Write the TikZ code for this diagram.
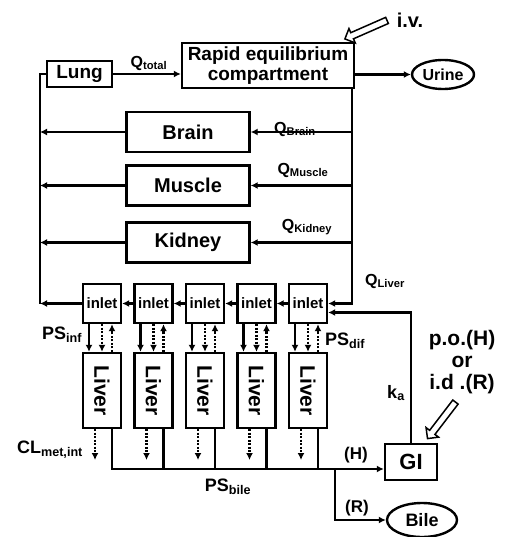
\documentclass[tikz,border=0pt]{standalone}
\usepackage{fontspec}
\setmainfont{Liberation Sans}
\usetikzlibrary{shapes, arrows.meta, positioning}

\newcommand{\fsz}[1]{\fontsize{#1}{#1}\selectfont}

\tikzset{
  box/.style={draw, line width=2.4pt, inner sep=0pt, font=\bfseries},
  organ/.style={box, minimum width=123pt, minimum height=40pt, font=\fsz{20}\bfseries},
  inlet/.style={box, minimum width=38pt, minimum height=39pt, font=\fsz{15}\bfseries},
  liver/.style={box, minimum width=38pt, minimum height=75pt, font=\fsz{21}\bfseries},
  pool/.style={box, ellipse},
  flow/.style={line width=2.4pt, -{Latex[length=7pt,width=7pt]}},
  pipe/.style={line width=2.4pt},
  dots/.style={dash pattern=on 2pt off 1.5pt},
  dose/.style={draw, single arrow, line width=1.5pt, inner sep=2.6pt, single arrow head extend=4.5pt, minimum height=46pt},
  lab/.style={inner sep=0pt, font=\fsz{16}\bfseries},
}

\begin{document}
\begin{tikzpicture}[x=1pt,y=-1pt]
    \useasboundingbox (0,0) rectangle (507,537);

    % top row
    \node[box, minimum width=65pt, minimum height=26pt, font=\fsz{19}\bfseries] (lung) at (79.5,74) {Lung};
    \node[box, minimum width=172pt, minimum height=45pt, align=center, font=\fontsize{19}{20}\selectfont\bfseries] (rapid) at (268,65.5) {Rapid equilibrium\\compartment};
    \node[pool, minimum width=62pt, minimum height=29pt, font=\fsz{16}\bfseries] (urine) at (443,74.5) {Urine};

    % organs
    \node[organ] (brain) at (188,132) {Brain};
    \node[organ] (muscle) at (188,185.5) {Muscle};
    \node[organ] (kidney) at (188,242.5) {Kidney};

    % liver compartments
    \node[inlet] (in1) at (102,303.5) {inlet};
    \node[inlet] (in2) at (153.5,303.5) {inlet};
    \node[inlet] (in3) at (205,303.5) {inlet};
    \node[inlet] (in4) at (256.5,303.5) {inlet};
    \node[inlet] (in5) at (308,303.5) {inlet};
    \node[liver] (li1) at (102,390.5) {\rotatebox{-90}{Liver}};
    \node[liver] (li2) at (153.5,390.5) {\rotatebox{-90}{Liver}};
    \node[liver] (li3) at (205,390.5) {\rotatebox{-90}{Liver}};
    \node[liver] (li4) at (256.5,390.5) {\rotatebox{-90}{Liver}};
    \node[liver] (li5) at (308,390.5) {\rotatebox{-90}{Liver}};

    \node[box, minimum width=52pt, minimum height=36pt, font=\fsz{22}\bfseries] (gi) at (411,462) {GI};
    \node[pool, minimum width=70pt, minimum height=34pt, font=\fsz{18}\bfseries] (bile) at (422,520) {Bile};

    \coordinate (rt) at (352,88);   % right trunk
    \coordinate (lt) at (40,303.5); % left trunk
    \coordinate (bj) at (335,469);  % bile junction
    \coordinate (clrow) at (0,460);

    % blood flow
    \draw[flow] (lung.east) -- (lung.east -| rapid.west);
    \draw[flow] (rapid.east |- urine.west) -- (urine.west);
    \draw[flow] (rt) |- (in5.east);
    \draw[flow] (rt |- brain.east) -- (brain.east);
    \draw[flow] (rt |- muscle.east) -- (muscle.east);
    \draw[flow] (rt |- kidney.east) -- (kidney.east);
    \draw[flow] (brain.west) -- (lt |- brain.west);
    \draw[flow] (muscle.west) -- (lt |- muscle.west);
    \draw[flow] (kidney.west) -- (lt |- kidney.west);
    \draw[flow] (in1.west) -- (lt);
    \draw[pipe] (lt) |- (lung.west);
    \draw[flow] (in2.west) -- (in1.east);
    \draw[flow] (in3.west) -- (in2.east);
    \draw[flow] (in4.west) -- (in3.east);
    \draw[flow] (in5.west) -- (in4.east);
    \draw[flow] (gi.north) |- ([yshift=-9pt]in5.east); %ka

    % inlet <-> liver
    \draw[flow] ([xshift=-13pt]in1.south) -- ([xshift=-13pt]li1.north);
    \draw[flow, dots] (in1.south) -- (li1.north);
    \draw[flow, dots] ([xshift=10pt]li1.north) -- ([xshift=10pt]in1.south);
    \draw[flow] ([xshift=-13pt]in2.south) -- ([xshift=-13pt]li2.north);
    \draw[flow, dots] (in2.south) -- (li2.north);
    \draw[flow, dots] ([xshift=10pt]li2.north) -- ([xshift=10pt]in2.south);
    \draw[flow] ([xshift=-13pt]in3.south) -- ([xshift=-13pt]li3.north);
    \draw[flow, dots] (in3.south) -- (li3.north);
    \draw[flow, dots] ([xshift=10pt]li3.north) -- ([xshift=10pt]in3.south);
    \draw[flow] ([xshift=-13pt]in4.south) -- ([xshift=-13pt]li4.north);
    \draw[flow, dots] (in4.south) -- (li4.north);
    \draw[flow, dots] ([xshift=10pt]li4.north) -- ([xshift=10pt]in4.south);
    \draw[flow] ([xshift=-13pt]in5.south) -- ([xshift=-13pt]li5.north);
    \draw[flow, dots] (in5.south) -- (li5.north);
    \draw[flow, dots] ([xshift=10pt]li5.north) -- ([xshift=10pt]in5.south);

    % metabolism and bile
    \draw[flow, dots] ([xshift=-7pt]li1.south) -- ([xshift=-7pt]li1.south |- clrow);
    \draw[flow, dots] ([xshift=-7pt]li2.south) -- ([xshift=-7pt]li2.south |- clrow);
    \draw[flow, dots] ([xshift=-7pt]li3.south) -- ([xshift=-7pt]li3.south |- clrow);
    \draw[flow, dots] ([xshift=-7pt]li4.south) -- ([xshift=-7pt]li4.south |- clrow);
    \draw[flow, dots] ([xshift=-7pt]li5.south) -- ([xshift=-7pt]li5.south |- clrow);
    \draw[pipe] ([xshift=10pt]li1.south) |- (bj);
    \draw[pipe] ([xshift=10pt]li2.south) |- (bj);
    \draw[pipe] ([xshift=10pt]li3.south) |- (bj);
    \draw[pipe] ([xshift=10pt]li4.south) |- (bj);
    \draw[pipe] ([xshift=10pt]li5.south) |- (bj);
    \draw[flow] (bj) -- (bj -| gi.west);
    \draw[flow] (bj) |- (bile.west);

    % doses
    \node[dose, rotate=203.7] (ivarr) at (367.5,29) {};
    \node[dose, rotate=232.6] (poarr) at (442.5,419) {};

    % labels
    \node[lab, font=\fsz{20}\bfseries] (iv) at (410,20) {i.v.};
    \node[lab] (qtot) at (149,63) {Q\textsubscript{total}};
    \node[lab] (qbr) at (295,129) {Q\textsubscript{Brain}};
    \node[lab] (qmu) at (303,170) {Q\textsubscript{Muscle}};
    \node[lab] (qki) at (307,227) {Q\textsubscript{Kidney}};
    \node[lab] (qli) at (385,281) {Q\textsubscript{Liver}};
    \node[lab, font=\fsz{18}\bfseries] (psinf) at (62,335) {PS\textsubscript{inf}};
    \node[lab, font=\fsz{18}\bfseries] (psdif) at (345,341) {PS\textsubscript{dif}};
    \node[lab, font=\fsz{18}\bfseries] (ka) at (396,393) {k\textsubscript{a}};
    \node[lab, align=center, font=\fontsize{21}{22}\selectfont\bfseries] (po) at (462,362) {p.o.(H)\\or\\i.d .(R)};
    \node[lab, font=\fsz{18}\bfseries] (clm) at (50,450) {CL\textsubscript{met,int}};
    \node[lab, font=\fsz{18}\bfseries] (psb) at (228,487) {PS\textsubscript{bile}};
    \node[lab, font=\fsz{17}\bfseries] (hl) at (356,455) {(H)};
    \node[lab, font=\fsz{17}\bfseries] (rl) at (357,508) {(R)};
\end{tikzpicture}
\end{document}
